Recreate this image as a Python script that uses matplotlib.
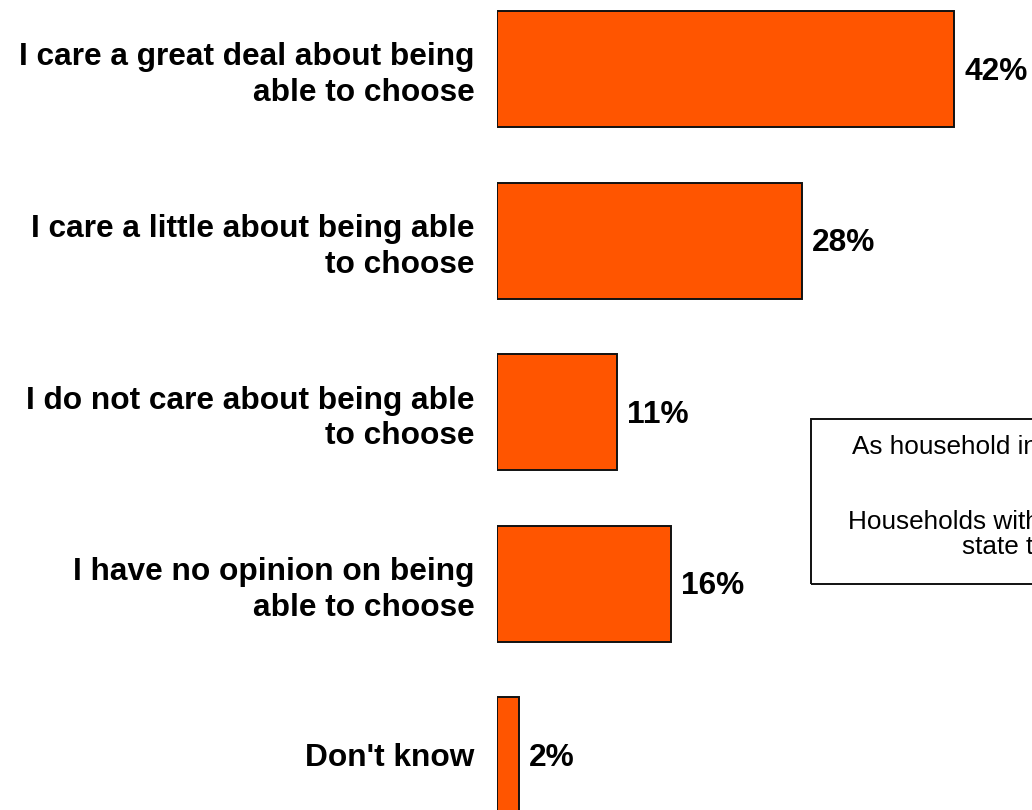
import matplotlib
matplotlib.use('Agg')
import matplotlib.pyplot as plt
from matplotlib.patches import Rectangle

plt.rcParams['font.family'] = ['Liberation Sans', 'DejaVu Sans']

categories = ['I care a great deal about being\nable to choose',
              'I care a little about being able\nto choose',
              'I do not care about being able\nto choose',
              'I have no opinion on being\nable to choose',
              "Don't know"]
values = [42, 28, 11, 16, 2]
note_lines = ['As household income',
              'Households with children',
              'state they']

bar_color = '#FF5500'
font_size = 22.8

W, H = 1032, 810
fig = plt.figure(figsize=(W / 100, H / 100), dpi=100)

# axes start at the bars' left edge and run off the right side
left = 497
ax = fig.add_axes([left / W, 0, (W - left) / W, 1])
px_per_pct = 10.88
ax.set_xlim(0, (W - left) / px_per_pct)

spacing = 171.5
first_center = 69
ax.set_ylim((H - first_center) / spacing, -first_center / spacing)

pos = list(range(len(values)))
ax.barh(pos, values, height=116 / spacing, color=bar_color,
        edgecolor='#111111', linewidth=1.4, align='center')

for p, v in zip(pos, values):
    ax.annotate('%d%%' % v, (v, p), xytext=(7.5, -2), textcoords='offset points',
                ha='left', va='center', fontsize=font_size, fontweight='bold')

ax.set_yticks(pos)
ax.set_yticklabels(categories, fontsize=font_size, fontweight='bold', ha='right',
                   linespacing=1.25)
ax.tick_params(axis='y', length=0, pad=16)
ax.set_xticks([])
for s in ax.spines.values():
    s.set_visible(False)

# note box, cut off by the right edge of the slide
fx = lambda x: x / W
fy = lambda y: 1 - y / H
fig.patches.append(Rectangle((fx(811), fy(584)), fx(600), (584 - 419) / H,
                             transform=fig.transFigure, fill=False,
                             edgecolor='#111111', linewidth=1.4))
note_pos = [(852, 447), (848, 522), (962, 547)]
for txt, (x, y) in zip(note_lines, note_pos):
    fig.text(fx(x), fy(y), txt, ha='left', va='center', fontsize=18.8)

fig.savefig('out.png', dpi=100)
